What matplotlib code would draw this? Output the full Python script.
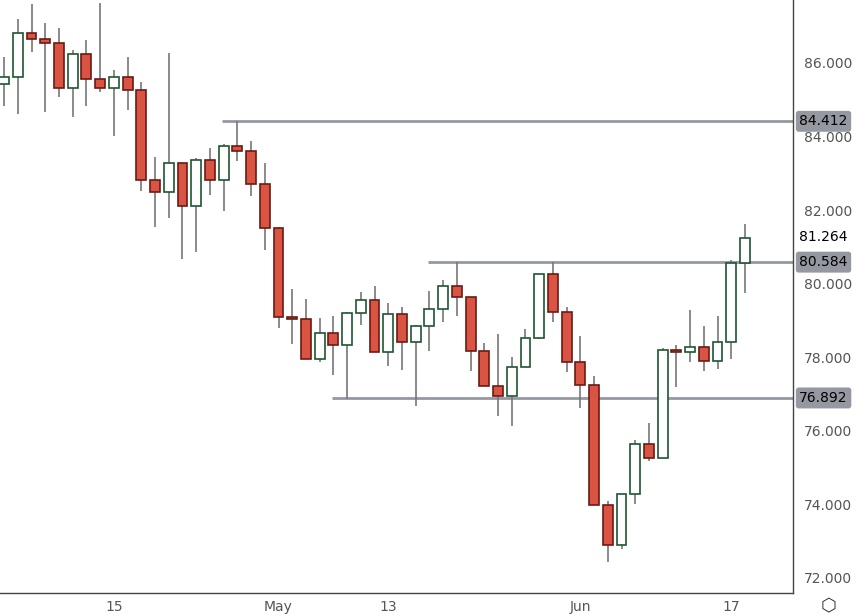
import matplotlib
matplotlib.use("Agg")
import matplotlib.pyplot as plt
import numpy as np

opens  = [85.43,85.62,86.81,86.65,86.54,85.32,86.24,85.56,85.32,85.62,85.26,82.82,82.49,83.28,82.11,83.36,82.82,83.74,83.61,82.71,
          81.51,79.09,79.04,77.95,78.66,78.33,79.20,79.56,78.14,79.18,78.41,78.85,79.31,79.94,79.64,78.17,77.22,76.95,77.73,78.52,
          80.26,79.23,77.87,77.25,73.98,72.90,74.28,75.64,75.26,78.20,78.14,78.28,77.90,78.41,80.56]
highs  = [86.16,87.19,87.60,87.08,86.95,86.35,86.62,87.63,85.81,86.16,85.48,83.44,86.27,83.28,83.42,83.69,83.80,84.42,83.88,83.28,
          81.54,79.86,79.58,79.07,79.12,79.23,79.77,79.94,79.47,79.37,78.88,79.80,80.10,80.59,79.64,78.39,78.63,78.01,78.77,80.26,
          80.59,79.37,78.58,77.49,74.09,74.28,75.75,76.21,78.25,78.33,79.28,78.85,79.12,80.64,81.62]
lows   = [84.83,84.61,86.30,84.67,85.07,84.53,84.83,85.21,84.01,84.72,82.52,81.54,81.78,80.67,80.86,82.41,81.98,83.33,82.38,80.92,
          78.80,78.36,77.95,77.87,77.52,76.87,78.88,78.14,77.76,77.65,76.67,78.17,78.96,79.12,77.63,77.22,76.40,76.13,77.73,78.50,
          78.96,77.60,76.62,73.98,72.43,72.79,74.01,75.18,75.26,77.19,77.87,77.63,77.68,77.95,79.75]
closes = [85.62,86.81,86.65,86.54,85.32,86.24,85.56,85.32,85.62,85.26,82.82,82.49,83.28,82.11,83.36,82.82,83.74,83.61,82.71,81.51,
          79.09,79.04,77.95,78.66,78.33,79.20,79.56,78.14,79.18,78.41,78.85,79.31,79.94,79.64,78.17,77.22,76.95,77.73,78.52,80.26,
          79.23,77.87,77.25,73.98,72.90,74.28,75.64,75.26,78.20,78.14,78.28,77.90,78.41,80.56,81.24]
xtick_pos = [8, 20, 28, 42, 53]
xtick_labels = ["15", "May", "13", "Jun", "17"]
levels = [84.412, 80.584, 76.892]
level_start = [15.9, 30.9, 23.9]
last_close = 81.264

fig = plt.figure(figsize=(8.56, 6.16), dpi=100)
ax = fig.add_axes([0, 1 - 593/616, 793/856, 593/616])

up_edge, dn_edge, dn_fill, wick_c = "#1e5631", "#6b1a15", "#d95442", "#777777"
w = 0.72
for i, (o, h, l, c) in enumerate(zip(opens, highs, lows, closes)):
    ax.vlines(i, l, h, color=wick_c, lw=1.2, zorder=2)
    up = c >= o
    ax.bar(i, abs(c - o) if abs(c - o) > 0.02 else 0.03, bottom=min(o, c), width=w,
           facecolor="white" if up else dn_fill, edgecolor=up_edge if up else dn_edge,
           lw=1.2, zorder=3)

for lv, xs in zip(levels, level_start):
    ax.hlines(lv, xs, 60, color="#9598a1", lw=2, zorder=1)

ax.set_xlim(-0.3, 57.5)
ax.set_ylim(71.59, 87.71)
ax.set_xticks(xtick_pos)
ax.set_xticklabels(xtick_labels)
yt = np.arange(72, 87, 2)
ax.set_yticks(yt)
ax.set_yticklabels([f"{v:.3f}" for v in yt])
ax.yaxis.tick_right()
ax.tick_params(axis="x", length=0, labelsize=10, colors="#555555", pad=5)
ax.tick_params(axis="y", length=0, labelsize=10, colors="#555555", pad=8)
for s in ["left", "top"]:
    ax.spines[s].set_visible(False)
for s in ["right", "bottom"]:
    ax.spines[s].set_color("#444444")
    ax.spines[s].set_linewidth(1)

trans = ax.get_yaxis_transform()
for lv in levels:
    ax.text(1.008, lv, f"{lv:.3f}", transform=trans, va="center", ha="left", fontsize=10,
            color="black", zorder=10, clip_on=False,
            bbox=dict(boxstyle="round,pad=0.25,rounding_size=0.2", fc="#9598a1", ec="none"))
ax.text(1.008, last_close, f"{last_close:.3f}", transform=trans, va="center", ha="left",
        fontsize=10, color="black", zorder=10, clip_on=False,
        bbox=dict(boxstyle="square,pad=0.3", fc="white", ec="none"))
fig.text(828/856, 1 - 606/616, "⬡", ha="center", va="center", fontsize=13, color="#333333")

fig.savefig("out.png", dpi=100)
